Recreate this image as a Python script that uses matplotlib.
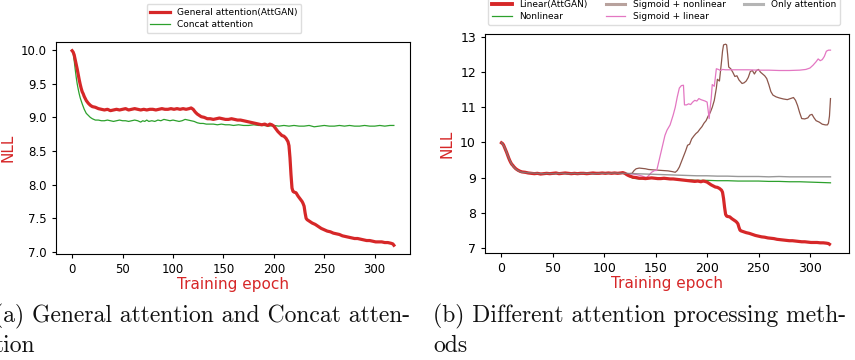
import matplotlib
matplotlib.use("Agg")
import matplotlib.pyplot as plt
from matplotlib.lines import Line2D
import numpy as np

# ---------------- data: panel (a) ----------------
general_epochs = [0, 1, 2, 3, 4, 5, 6, 7, 8, 9, 10, 11, 12, 14, 16, 18, 20, 23, 26, 29, 32, 35, 38, 41, 44, 47,
                  50, 53, 56, 59, 62, 65, 68, 71, 74, 77, 80, 83, 86, 89, 92, 95, 98, 101, 104, 107, 110, 113,
                  116, 118, 120, 122, 124, 126, 128, 131, 134, 137, 140, 143, 146, 149, 152, 155, 158, 161, 164,
                  167, 170, 173, 176, 179, 182, 185, 188, 191, 194, 196, 198, 200, 202, 204, 206, 208, 210, 212,
                  214, 215, 216, 217, 218, 219, 220, 222, 224, 226, 228, 229, 230, 231, 232, 233, 235, 238, 241,
                  244, 247, 250, 253, 256, 259, 262, 265, 268, 271, 274, 277, 280, 283, 286, 289, 292, 295, 298,
                  301, 304, 307, 310, 313, 316, 318, 319]
general_nll = [9.99, 9.97, 9.93, 9.86, 9.79, 9.72, 9.64, 9.56, 9.49, 9.43, 9.38, 9.35, 9.31, 9.25, 9.21, 9.18,
               9.16, 9.15, 9.13, 9.12, 9.11, 9.12, 9.10, 9.11, 9.12, 9.11, 9.12, 9.13, 9.11, 9.12, 9.13, 9.12,
               9.11, 9.12, 9.11, 9.12, 9.12, 9.11, 9.12, 9.13, 9.12, 9.12, 9.13, 9.12, 9.13, 9.12, 9.13, 9.12,
               9.13, 9.14, 9.12, 9.08, 9.05, 9.03, 9.01, 9.00, 8.98, 8.98, 8.97, 8.98, 8.99, 8.98, 8.97, 8.97,
               8.98, 8.97, 8.96, 8.96, 8.95, 8.94, 8.93, 8.92, 8.91, 8.90, 8.89, 8.90, 8.88, 8.90, 8.89, 8.87,
               8.83, 8.79, 8.76, 8.73, 8.72, 8.69, 8.64, 8.58, 8.40, 8.15, 7.95, 7.90, 7.89, 7.88, 7.83, 7.79,
               7.75, 7.72, 7.68, 7.58, 7.50, 7.48, 7.46, 7.43, 7.41, 7.38, 7.35, 7.33, 7.31, 7.30, 7.28, 7.27,
               7.26, 7.24, 7.23, 7.22, 7.21, 7.20, 7.20, 7.19, 7.18, 7.17, 7.17, 7.16, 7.15, 7.15, 7.15, 7.14,
               7.14, 7.13, 7.12, 7.10]

concat_epochs = [0, 1, 2, 3, 4, 5, 6, 7, 8, 10, 12, 14, 16, 18, 20, 23, 26, 29, 32, 35, 38, 41, 44, 47, 50, 53,
                 56, 59, 62, 65, 68, 70, 72, 74, 76, 79, 82, 85, 88, 91, 94, 97, 100, 103, 106, 109, 112, 115,
                 118, 121, 124, 127, 130, 133, 136, 140, 144, 148, 152, 156, 160, 165, 170, 175, 180, 185, 190,
                 195, 200, 205, 210, 215, 220, 225, 230, 235, 240, 245, 250, 255, 260, 265, 270, 275, 280, 285,
                 290, 295, 300, 305, 310, 315, 319]
concat_nll = [10.0, 9.95, 9.85, 9.72, 9.60, 9.50, 9.42, 9.35, 9.29, 9.20, 9.12, 9.06, 9.03, 9.00, 8.98, 8.96,
              8.96, 8.95, 8.95, 8.96, 8.95, 8.94, 8.95, 8.96, 8.95, 8.95, 8.94, 8.95, 8.96, 8.95, 8.93, 8.95,
              8.94, 8.96, 8.94, 8.95, 8.94, 8.96, 8.95, 8.97, 8.96, 8.95, 8.96, 8.95, 8.94, 8.95, 8.97, 8.96,
              8.95, 8.94, 8.92, 8.91, 8.91, 8.90, 8.90, 8.90, 8.89, 8.90, 8.89, 8.89, 8.88, 8.89, 8.88, 8.88,
              8.89, 8.88, 8.88, 8.87, 8.88, 8.87, 8.88, 8.87, 8.88, 8.87, 8.87, 8.88, 8.86, 8.87, 8.88, 8.87,
              8.87, 8.88, 8.87, 8.88, 8.87, 8.87, 8.88, 8.87, 8.87, 8.88, 8.87, 8.88, 8.88]

# ---------------- data: panel (b) ----------------
early_epochs = [0, 2, 4, 6, 8, 10, 12, 14, 16, 18, 20, 25, 30, 35, 40, 45, 50, 55, 60, 65, 70, 75, 80, 85,
                90, 95, 100, 105, 110, 115, 120]
early_nll = [10.0, 9.92, 9.80, 9.64, 9.50, 9.38, 9.30, 9.24, 9.20, 9.17, 9.15, 9.14, 9.13, 9.12, 9.11, 9.12,
             9.11, 9.12, 9.12, 9.11, 9.12, 9.11, 9.12, 9.12, 9.11, 9.12, 9.12, 9.12, 9.13, 9.12, 9.12]

nonlinear_epochs = [122, 125, 128, 131, 135, 140, 145, 150, 155, 160, 165, 170, 175, 180, 185, 190, 195, 200,
                    210, 220, 230, 240, 250, 260, 270, 280, 290, 300, 310, 320]
nonlinear_nll = [9.08, 9.02, 8.98, 8.97, 8.96, 8.97, 8.98, 8.98, 8.97, 8.96, 8.95, 8.95, 8.94, 8.93, 8.93,
                 8.92, 8.92, 8.92, 8.91, 8.91, 8.90, 8.90, 8.90, 8.89, 8.89, 8.88, 8.88, 8.87, 8.86, 8.85]

sig_nonlin_epochs = [124, 127, 129, 131, 134, 137, 140, 143, 147, 152, 157, 162, 166, 169, 171, 173, 175, 177,
                     179, 181, 183, 185, 187, 189, 191, 193, 195, 197, 199, 201, 203, 205, 207, 209, 210, 212,
                     214, 215, 216, 218, 219, 220, 221, 223, 225, 227, 229, 231, 234, 236, 238, 240, 242, 244,
                     246, 248, 250, 252, 254, 256, 258, 260, 262, 264, 267, 270, 274, 278, 281, 284, 286, 288,
                     290, 292, 295, 298, 300, 302, 304, 306, 309, 312, 315, 317, 318, 319, 320]
sig_nonlin_nll = [9.11, 9.12, 9.20, 9.25, 9.27, 9.26, 9.25, 9.23, 9.22, 9.21, 9.20, 9.19, 9.17, 9.15, 9.20,
                  9.30, 9.45, 9.60, 9.75, 9.92, 9.95, 10.10, 10.18, 10.25, 10.30, 10.38, 10.45, 10.55, 10.62,
                  10.75, 10.85, 11.00, 11.20, 11.55, 11.80, 11.75, 12.30, 12.60, 12.78, 12.80, 12.78, 12.50,
                  12.15, 12.10, 12.00, 11.88, 11.90, 11.78, 11.68, 11.70, 11.75, 11.85, 12.02, 12.05, 11.95,
                  12.05, 12.08, 12.00, 11.95, 11.90, 11.82, 11.65, 11.45, 11.35, 11.30, 11.27, 11.24, 11.22,
                  11.25, 11.28, 11.20, 11.05, 10.85, 10.68, 10.67, 10.70, 10.78, 10.80, 10.70, 10.62, 10.58,
                  10.52, 10.50, 10.50, 10.55, 10.75, 11.25]

sig_lin_epochs = [124, 128, 132, 136, 139, 141, 143, 146, 149, 151, 153, 155, 157, 159, 161, 164, 167, 169, 171,
                  173, 175, 177, 178, 180, 182, 184, 186, 188, 190, 192, 194, 196, 198, 200, 202, 203, 204, 205,
                  207, 209, 211, 213, 215, 218, 222, 230, 240, 250, 260, 270, 280, 290, 296, 300, 303, 306, 308,
                  310, 312, 314, 316, 318, 320]
sig_lin_nll = [9.11, 9.10, 9.08, 9.05, 9.02, 9.00, 9.05, 9.15, 9.20, 9.20, 9.45, 9.70, 9.95, 10.20, 10.35,
               10.50, 10.78, 11.00, 11.30, 11.55, 11.62, 11.63, 11.07, 11.07, 11.10, 11.08, 11.15, 11.20, 11.18,
               11.25, 11.22, 11.20, 11.18, 11.15, 10.68, 11.00, 11.25, 11.65, 11.60, 12.10, 12.08, 12.05, 12.08,
               12.07, 12.07, 12.07, 12.07, 12.06, 12.06, 12.05, 12.05, 12.06, 12.08, 12.12, 12.20, 12.30, 12.38,
               12.33, 12.36, 12.45, 12.60, 12.63, 12.63]

only_att_epochs = [130, 140, 150, 160, 170, 180, 190, 200, 210, 220, 230, 240, 250, 260, 270, 280, 290, 300,
                   310, 320]
only_att_nll = [9.11, 9.10, 9.09, 9.08, 9.07, 9.06, 9.05, 9.05, 9.04, 9.04, 9.03, 9.03, 9.03, 9.02, 9.03,
                9.02, 9.02, 9.02, 9.02, 9.02]

labels_a = ["General attention(AttGAN)", "Concat attention"]
labels_b = ["Linear(AttGAN)", "Nonlinear", "Sigmoid + nonlinear", "Sigmoid + linear", "Only attention"]
caption_a = ["(a) General attention and Concat atten-", "tion"]
caption_b = ["(b) Different attention processing meth-", "ods"]

RED = "#d62728"
GREEN = "#2ca02c"
BROWN = "#8c564b"
PINK = "#e377c2"
GRAY = "#7f7f7f"

W, H = 855, 360
fig = plt.figure(figsize=(W / 100, H / 100), dpi=100)


def px_axes(x0, y0, x1, y1):
    return fig.add_axes([x0 / W, 1 - y1 / H, (x1 - x0) / W, (y1 - y0) / H])


# ---------------- panel (a) ----------------
ax1 = px_axes(56, 42, 410, 254)
ax1.plot(general_epochs, general_nll, color=RED, lw=2.3, label=labels_a[0], zorder=3)
ax1.plot(concat_epochs, concat_nll, color=GREEN, lw=0.9, label=labels_a[1], zorder=2)
ax1.set_xlim(-16, 335)
ax1.set_ylim(6.97, 10.12)
ax1.set_xticks([0, 50, 100, 150, 200, 250, 300])
ax1.set_yticks([7.0, 7.5, 8.0, 8.5, 9.0, 9.5, 10.0])
ax1.set_yticklabels(["7.0", "7.5", "8.0", "8.5", "9.0", "9.5", "10.0"])
ax1.tick_params(labelsize=8.5, length=3, width=0.8)
ax1.set_xlabel("Training epoch", color=RED, fontsize=11, labelpad=1)
ax1.set_ylabel("NLL", color=RED, fontsize=11, labelpad=4)
fig.legend(loc="center", bbox_to_anchor=(224 / W, 1 - 18.5 / H), bbox_transform=fig.transFigure,
           handles=ax1.get_lines(), labels=labels_a, fontsize=6.5, handlelength=2.2,
           labelspacing=0.4, borderpad=0.4, borderaxespad=0, framealpha=1, edgecolor="#dddddd")

# ---------------- panel (b) ----------------
ax2 = px_axes(485, 34, 849, 253)
ax2.plot(general_epochs, general_nll, color=RED, lw=2.3, zorder=3)
ax2.plot(early_epochs + nonlinear_epochs, early_nll + nonlinear_nll, color=GREEN, lw=0.9, zorder=2)
ax2.plot(early_epochs + sig_nonlin_epochs, early_nll + sig_nonlin_nll, color=BROWN, lw=0.9, zorder=2)
ax2.plot(early_epochs + sig_lin_epochs, early_nll + sig_lin_nll, color=PINK, lw=0.9, zorder=2)
ax2.plot(early_epochs + only_att_epochs, early_nll + only_att_nll, color=GRAY, lw=1.0, zorder=4, alpha=0.8)
ax2.set_xlim(-16, 338)
ax2.set_ylim(6.85, 13.09)
ax2.set_xticks([0, 50, 100, 150, 200, 250, 300])
ax2.set_yticks([7, 8, 9, 10, 11, 12, 13])
ax2.tick_params(labelsize=9, length=3, width=0.8)
ax2.set_xlabel("Training epoch", color=RED, fontsize=11, labelpad=1)
ax2.set_ylabel("NLL", color=RED, fontsize=11, labelpad=4)
handles_b = [
    Line2D([], [], color=RED, lw=2.8),
    Line2D([], [], color=GREEN, lw=0.9),
    Line2D([], [], color="#b8a29d", lw=2.2),
    Line2D([], [], color=PINK, lw=0.9),
    Line2D([], [], color="#b5b5b5", lw=2.2),
]
fig.legend(handles=handles_b, labels=labels_b, ncol=3, loc="lower center",
           bbox_to_anchor=(664 / W, 1 - 25 / H), bbox_transform=fig.transFigure,
           fontsize=6.5, handlelength=2.2, labelspacing=0.4, borderpad=0.4, borderaxespad=0,
           columnspacing=2.0, framealpha=1, edgecolor="#dddddd")

# ---------------- captions ----------------
cap_kw = dict(family="cmr10", fontsize=17, color="#111111", va="baseline", ha="left")
fig.text(-5.5 / W, 1 - 322.5 / H, caption_a[0], **cap_kw)
fig.text(-5.5 / W, 1 - 352 / H, caption_a[1], **cap_kw)
fig.text(433 / W, 1 - 322.5 / H, caption_b[0], **cap_kw)
fig.text(433 / W, 1 - 352 / H, caption_b[1], **cap_kw)

fig.savefig("out.png", dpi=100)
